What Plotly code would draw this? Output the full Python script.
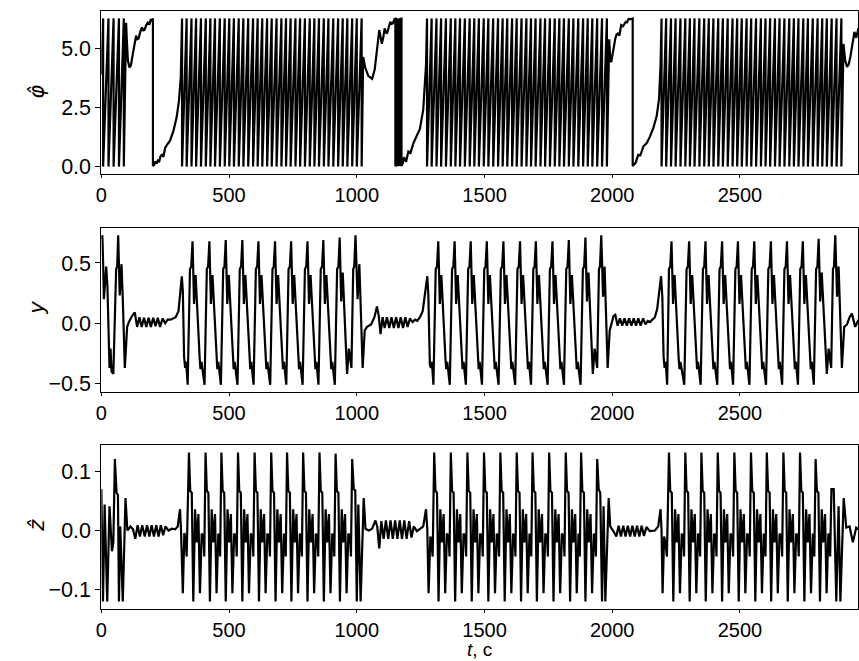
import plotly.graph_objects as go

TWO_PI = 6.2832

# ---------------- phase panel (phi-hat) ----------------
phi_start = [(0, 3.9)]
phi_wraps_0 = [7, 28, 48, 69, 88]
phi_quiet_1 = [(97, 6.1), (100, 5.3), (104, 4.5), (110, 4.2), (116, 4.3), (122, 4.7), (127, 5.0),
               (132, 5.4), (136, 5.55), (141, 5.4), (146, 5.43), (152, 5.7), (159, 5.9), (164, 5.78),
               (169, 5.8), (176, 6.0), (182, 6.1), (188, 6.02), (193, 6.22), (198, 6.2), (202, 6.28),
               (202, 0.02), (207, 0.08), (212, 0.22), (217, 0.12), (222, 0.3), (226, 0.18), (232, 0.45),
               (237, 0.5), (243, 0.42), (250, 0.8), (259, 0.95), (269, 1.1), (282, 1.5), (295, 2.1),
               (304, 2.8), (311, 3.8)]
phi_wraps_1 = [316, 334, 353, 371, 390, 409, 427, 445, 464, 483, 501, 519, 538, 556, 575, 594, 612,
               630, 649, 667, 686, 705, 723, 741, 760, 778, 797, 816, 834, 852, 871, 889, 908, 927,
               945, 963, 982, 1000, 1019]
phi_quiet_2 = [(1025, 4.65), (1033, 4.2), (1045, 3.85), (1060, 3.72), (1070, 4.1), (1079, 4.86),
               (1088, 5.79), (1093, 5.5), (1098, 5.21), (1104, 5.5), (1109, 5.86), (1114, 5.7),
               (1118, 5.64), (1125, 5.9), (1131, 6.14), (1136, 6.05), (1141, 6.07), (1148, 6.26),
               (1151, 6.27), (1151, 0.02), (1155, 0.06), (1155, 6.25), (1159, 6.24), (1159, 0.03),
               (1163, 0.08), (1163, 6.25), (1167, 6.22), (1167, 0.04), (1171, 0.1), (1171, 6.26),
               (1175, 6.27), (1175, 0.02), (1180, 0.15), (1185, 0.4), (1193, 0.2), (1202, 0.64),
               (1210, 0.58), (1222, 1.0), (1234, 1.3), (1247, 1.6), (1260, 2.4), (1271, 4.3)]
phi_wraps_2 = [1275, 1293, 1312, 1330, 1349, 1368, 1386, 1404, 1423, 1442, 1460, 1478, 1497, 1515,
               1534, 1553, 1571, 1589, 1608, 1626, 1645, 1664, 1682, 1700, 1719, 1737, 1756, 1775,
               1793, 1811, 1830, 1848, 1867, 1886, 1904, 1922, 1941, 1960, 1979]
phi_quiet_3 = [(1988, 5.4), (1992, 4.6), (1996, 4.43), (2004, 5.0), (2012, 5.43), (2017, 5.6),
               (2022, 5.64), (2028, 5.55), (2035, 6.0), (2042, 5.95), (2053, 6.14), (2058, 6.12),
               (2064, 6.26), (2072, 6.25), (2080, 6.28), (2080, 0.03), (2086, 0.1), (2092, 0.17),
               (2097, 0.35), (2102, 0.5), (2110, 0.48), (2122, 0.86), (2135, 1.0), (2148, 1.28),
               (2161, 1.64), (2174, 2.14), (2183, 2.86), (2189, 4.3)]
phi_wraps_3 = [2193, 2211, 2230, 2248, 2267, 2286, 2304, 2322, 2341, 2360, 2378, 2396, 2415, 2433,
               2452, 2471, 2489, 2507, 2526, 2544, 2563, 2582, 2600, 2618, 2637, 2655, 2674, 2693,
               2711, 2729, 2748, 2766, 2785, 2804, 2822, 2840, 2859, 2878, 2897]
phi_quiet_4 = [(2905, 5.2), (2912, 4.5), (2919, 4.22), (2926, 4.35), (2932, 4.65), (2938, 5.1),
               (2942, 5.43), (2948, 5.71), (2955, 5.46), (2964, 5.86)]

# ---------------- y panel ----------------
y_quiet_1 = [(0, 0.70), (4, 0.73), (7, 0.50), (10, 0.20), (15, 0.35), (19, 0.47), (24, 0.30),
             (32, -0.37), (36, -0.21), (40, -0.40), (47, -0.42), (58, 0.45), (62, 0.47), (66, 0.73),
             (72, 0.23), (79, 0.49), (84, 0.20), (92, -0.37), (101, -0.03), (108, 0.01), (120, 0.06),
             (131, 0.09), (140, -0.03), (149, 0.05), (158, -0.03), (167, 0.045), (176, -0.03),
             (185, 0.045), (194, -0.03), (203, 0.045), (212, -0.025), (221, 0.045), (230, -0.03),
             (240, 0.04), (250, 0.0), (260, 0.03), (271, 0.03), (281, 0.04), (291, 0.05), (302, 0.10),
             (308, 0.26), (315, 0.39), (319, 0.27), (324, -0.28), (328, -0.37), (332, -0.32), (338, -0.51)]
y_burst_1 = [(347, 0.45), (352, 0.47), (357, 0.68), (363, 0.16), (369, 0.40), (385, -0.29), (388, -0.38), (392, -0.32), (404, -0.51),
             (413, 0.45), (418, 0.47), (423, 0.68), (429, 0.16), (435, 0.40), (451, -0.29), (454, -0.38), (458, -0.32), (468, -0.51),
             (477, 0.45), (482, 0.47), (487, 0.69), (493, 0.16), (499, 0.40), (515, -0.29), (518, -0.38), (522, -0.32), (533, -0.51),
             (542, 0.45), (547, 0.47), (552, 0.69), (558, 0.16), (564, 0.40), (580, -0.29), (583, -0.38), (587, -0.32), (596, -0.51),
             (605, 0.45), (610, 0.47), (615, 0.68), (621, 0.16), (627, 0.40), (643, -0.29), (646, -0.38), (650, -0.32), (661, -0.51),
             (670, 0.45), (675, 0.47), (680, 0.68), (686, 0.16), (692, 0.40), (708, -0.29), (711, -0.38), (715, -0.32), (724, -0.51),
             (733, 0.45), (738, 0.47), (743, 0.68), (749, 0.16), (755, 0.40), (771, -0.29), (774, -0.38), (778, -0.32), (788, -0.51),
             (797, 0.45), (802, 0.47), (807, 0.68), (813, 0.16), (819, 0.40), (835, -0.29), (838, -0.38), (842, -0.32), (850, -0.51),
             (859, 0.45), (864, 0.47), (869, 0.69), (875, 0.16), (881, 0.40), (897, -0.29), (900, -0.38), (904, -0.32), (914, -0.51),
             (923, 0.45), (928, 0.47), (933, 0.71), (939, 0.18), (945, 0.42), (962, -0.42), (969, -0.21), (979, -0.37),
             (986, 0.45), (990, 0.47), (995, 0.73), (1003, 0.20), (1010, 0.49), (1023, -0.37)]
y_quiet_2 = [(1031, -0.06), (1040, -0.03), (1056, -0.01), (1069, 0.05), (1079, 0.14), (1086, 0.06),
             (1093, -0.09), (1101, 0.05), (1109, -0.04), (1118, 0.05), (1127, -0.04), (1136, 0.05),
             (1145, -0.04), (1154, 0.05), (1163, -0.04), (1172, 0.05), (1181, -0.04), (1190, 0.05),
             (1199, -0.03), (1208, 0.04), (1218, 0.01), (1228, 0.03), (1237, 0.02), (1247, 0.05),
             (1258, 0.10), (1267, 0.24), (1276, 0.39), (1280, 0.24), (1286, -0.34), (1290, -0.37),
             (1294, -0.32), (1300, -0.51)]
y_burst_2 = [(1309, 0.45), (1314, 0.47), (1319, 0.68), (1325, 0.16), (1331, 0.40), (1347, -0.29), (1350, -0.38), (1354, -0.32), (1364, -0.51),
             (1373, 0.45), (1378, 0.47), (1383, 0.68), (1389, 0.16), (1395, 0.40), (1411, -0.29), (1414, -0.38), (1418, -0.32), (1427, -0.51),
             (1436, 0.45), (1441, 0.47), (1446, 0.68), (1452, 0.16), (1458, 0.40), (1474, -0.29), (1477, -0.38), (1481, -0.32), (1490, -0.51),
             (1499, 0.45), (1504, 0.47), (1509, 0.68), (1515, 0.16), (1521, 0.40), (1537, -0.29), (1540, -0.38), (1544, -0.32), (1555, -0.51),
             (1564, 0.45), (1569, 0.47), (1574, 0.68), (1580, 0.16), (1586, 0.40), (1602, -0.29), (1605, -0.38), (1609, -0.32), (1620, -0.51),
             (1629, 0.45), (1634, 0.47), (1639, 0.68), (1645, 0.16), (1651, 0.40), (1667, -0.29), (1670, -0.38), (1674, -0.32), (1682, -0.51),
             (1691, 0.45), (1696, 0.47), (1701, 0.68), (1707, 0.16), (1713, 0.40), (1729, -0.29), (1732, -0.38), (1736, -0.32), (1747, -0.51),
             (1756, 0.45), (1761, 0.47), (1766, 0.68), (1772, 0.16), (1778, 0.40), (1794, -0.29), (1797, -0.38), (1801, -0.32), (1811, -0.51),
             (1820, 0.45), (1825, 0.47), (1830, 0.69), (1836, 0.16), (1842, 0.40), (1858, -0.29), (1861, -0.38), (1865, -0.32), (1876, -0.51),
             (1885, 0.45), (1890, 0.47), (1895, 0.71), (1901, 0.18), (1907, 0.42), (1924, -0.42), (1931, -0.21), (1941, -0.37),
             (1948, 0.45), (1952, 0.47), (1957, 0.73), (1964, 0.22), (1970, 0.47), (1982, -0.37)]
y_quiet_3 = [(1990, -0.06), (1996, -0.01), (2005, 0.06), (2012, 0.07), (2021, -0.02), (2030, 0.04),
             (2039, -0.02), (2048, 0.04), (2057, -0.02), (2066, 0.04), (2075, -0.02), (2084, 0.04),
             (2093, -0.02), (2102, 0.04), (2111, -0.02), (2121, 0.04), (2130, -0.01), (2139, 0.02),
             (2148, 0.01), (2157, 0.03), (2167, 0.05), (2176, 0.12), (2184, 0.27), (2191, 0.39),
             (2196, 0.22), (2201, -0.28), (2205, -0.37), (2209, -0.32), (2215, -0.51)]
y_burst_3 = [(2222, 0.45), (2227, 0.47), (2232, 0.68), (2238, 0.16), (2244, 0.40), (2260, -0.29), (2263, -0.38), (2267, -0.32), (2282, -0.51),
             (2291, 0.45), (2296, 0.47), (2301, 0.68), (2307, 0.16), (2313, 0.40), (2329, -0.29), (2332, -0.38), (2336, -0.32), (2346, -0.51),
             (2355, 0.45), (2360, 0.47), (2365, 0.68), (2371, 0.16), (2377, 0.40), (2393, -0.29), (2396, -0.38), (2400, -0.32), (2411, -0.51),
             (2420, 0.45), (2425, 0.47), (2430, 0.68), (2436, 0.16), (2442, 0.40), (2458, -0.29), (2461, -0.38), (2465, -0.32), (2473, -0.51),
             (2482, 0.45), (2487, 0.47), (2492, 0.68), (2498, 0.16), (2504, 0.40), (2520, -0.29), (2523, -0.38), (2527, -0.32), (2537, -0.51),
             (2546, 0.45), (2551, 0.47), (2556, 0.68), (2562, 0.16), (2568, 0.40), (2584, -0.29), (2587, -0.38), (2591, -0.32), (2602, -0.51),
             (2611, 0.45), (2616, 0.47), (2621, 0.68), (2627, 0.16), (2633, 0.40), (2649, -0.29), (2652, -0.38), (2656, -0.32), (2665, -0.51),
             (2674, 0.45), (2679, 0.47), (2684, 0.68), (2690, 0.16), (2696, 0.40), (2712, -0.29), (2715, -0.38), (2719, -0.32), (2727, -0.51),
             (2736, 0.45), (2741, 0.47), (2746, 0.68), (2752, 0.16), (2758, 0.40), (2774, -0.29), (2777, -0.38), (2781, -0.32), (2789, -0.51),
             (2798, 0.45), (2803, 0.47), (2808, 0.70), (2814, 0.18), (2820, 0.42), (2840, -0.42), (2847, -0.21), (2857, -0.37),
             (2864, 0.45), (2868, 0.47), (2873, 0.73), (2880, 0.22), (2886, 0.47), (2899, -0.37)]
y_quiet_4 = [(2908, -0.03), (2919, -0.01), (2929, 0.05), (2938, 0.08), (2951, -0.03), (2964, 0.03)]

# ---------------- z panel ----------------
z_quiet_1 = [(0, 0.07), (6.5, -0.12), (13, 0.044), (17, -0.015), (23, -0.12), (32, 0.041), (41.5, -0.035),
             (47, -0.02), (53, 0.121), (59.6, 0.064), (65, 0.06), (69, -0.12), (74, 0.007), (84, -0.12),
             (94.6, 0.055), (102, 0.0), (114, 0.007), (124, 0.002), (133, -0.014), (142, 0.009),
             (151, -0.01), (160, 0.009), (170, -0.01), (179, 0.009), (188, -0.01), (197, 0.009),
             (206, -0.01), (215, 0.009), (224, -0.01), (233, 0.009), (242, -0.008), (251, 0.007),
             (263, 0.0), (276, 0.003), (289, 0.002), (299, 0.007), (308, 0.036), (312, 0.0),
             (319, -0.106), (325, -0.004), (330, -0.015), (334, -0.044)]
z_burst_1 = [(343, 0.132), (348, 0.067), (354, 0.064), (360, -0.12), (367, 0.036), (373, -0.02), (380, 0.028), (386, -0.106), (393, -0.005), (400, -0.012), (403, -0.044),
             (408, 0.132), (413, 0.067), (419, 0.064), (425, -0.12), (432, 0.036), (438, -0.02), (445, 0.028), (451, -0.106), (458, -0.005), (462, -0.012), (465, -0.044),
             (470, 0.132), (475, 0.067), (481, 0.064), (487, -0.12), (494, 0.036), (500, -0.02), (507, 0.028), (513, -0.106), (520, -0.005), (527, -0.012), (530, -0.044),
             (535, 0.132), (540, 0.067), (546, 0.064), (552, -0.12), (559, 0.036), (565, -0.02), (572, 0.028), (578, -0.106), (585, -0.005), (592, -0.012), (595, -0.044),
             (600, 0.132), (605, 0.067), (611, 0.064), (617, -0.12), (624, 0.036), (630, -0.02), (637, 0.028), (643, -0.106), (650, -0.005), (657, -0.012), (660, -0.044),
             (665, 0.132), (670, 0.067), (676, 0.064), (682, -0.12), (689, 0.036), (695, -0.02), (702, 0.028), (708, -0.106), (715, -0.005), (719, -0.012), (722, -0.044),
             (727, 0.132), (732, 0.067), (738, 0.064), (744, -0.12), (751, 0.036), (757, -0.02), (764, 0.028), (770, -0.106), (777, -0.005), (782, -0.012), (785, -0.044),
             (790, 0.132), (795, 0.067), (801, 0.064), (807, -0.12), (814, 0.036), (820, -0.02), (827, 0.028), (833, -0.106), (840, -0.005), (846, -0.012), (849, -0.044),
             (854, 0.132), (859, 0.067), (865, 0.064), (871, -0.12), (878, 0.036), (884, -0.02), (891, 0.028), (897, -0.106), (904, -0.005), (909, -0.012), (912, -0.044),
             (917, 0.13), (922, 0.067), (928, 0.064), (934, -0.12), (941, 0.036), (947, -0.02), (954, 0.028), (960, -0.106), (967, -0.005), (974, -0.012), (977, -0.044),
             (982, 0.121), (988, 0.07), (994, 0.068), (1000, -0.12), (1006, 0.044), (1015, -0.12), (1027, 0.055)]
z_quiet_2 = [(1034, 0.003), (1047, 0.0), (1060, 0.003), (1073, 0.017), (1080, 0.007), (1088, -0.03),
             (1096, 0.016), (1105, -0.014), (1114, 0.017), (1123, -0.014), (1132, 0.017), (1141, -0.014),
             (1150, 0.017), (1159, -0.014), (1168, 0.017), (1177, -0.014), (1186, 0.017), (1195, -0.014),
             (1205, 0.016), (1214, -0.012), (1223, 0.007), (1235, -0.001), (1248, 0.003), (1260, 0.007),
             (1271, 0.036), (1276, 0.002), (1281, -0.106), (1288, -0.01), (1292, -0.018), (1297, -0.044)]
z_burst_2 = [(1303, 0.132), (1308, 0.067), (1314, 0.064), (1320, -0.12), (1327, 0.036), (1333, -0.02), (1340, 0.028), (1346, -0.106), (1353, -0.005), (1360, -0.012), (1363, -0.044),
             (1368, 0.132), (1373, 0.067), (1379, 0.064), (1385, -0.12), (1392, 0.036), (1398, -0.02), (1405, 0.028), (1411, -0.106), (1418, -0.005), (1425, -0.012), (1428, -0.044),
             (1433, 0.132), (1438, 0.067), (1444, 0.064), (1450, -0.12), (1457, 0.036), (1463, -0.02), (1470, 0.028), (1476, -0.106), (1483, -0.005), (1490, -0.012), (1493, -0.044),
             (1498, 0.132), (1503, 0.067), (1509, 0.064), (1515, -0.12), (1522, 0.036), (1528, -0.02), (1535, 0.028), (1541, -0.106), (1548, -0.005), (1554, -0.012), (1557, -0.044),
             (1562, 0.132), (1567, 0.067), (1573, 0.064), (1579, -0.12), (1586, 0.036), (1592, -0.02), (1599, 0.028), (1605, -0.106), (1612, -0.005), (1618, -0.012), (1621, -0.044),
             (1626, 0.132), (1631, 0.067), (1637, 0.064), (1643, -0.12), (1650, 0.036), (1656, -0.02), (1663, 0.028), (1669, -0.106), (1676, -0.005), (1680, -0.012), (1683, -0.044),
             (1688, 0.132), (1693, 0.067), (1699, 0.064), (1705, -0.12), (1712, 0.036), (1718, -0.02), (1725, 0.028), (1731, -0.106), (1738, -0.005), (1745, -0.012), (1748, -0.044),
             (1753, 0.132), (1758, 0.067), (1764, 0.064), (1770, -0.12), (1777, 0.036), (1783, -0.02), (1790, 0.028), (1796, -0.106), (1803, -0.005), (1810, -0.012), (1813, -0.044),
             (1818, 0.132), (1823, 0.067), (1829, 0.064), (1835, -0.12), (1842, 0.036), (1848, -0.02), (1855, 0.028), (1861, -0.106), (1868, -0.005), (1870, -0.012), (1873, -0.044),
             (1878, 0.132), (1883, 0.067), (1889, 0.064), (1895, -0.12), (1902, 0.036), (1908, -0.02), (1915, 0.028), (1921, -0.106), (1928, -0.005), (1933, -0.012), (1936, -0.044),
             (1941, 0.121), (1947, 0.07), (1953, 0.064), (1960, -0.12), (1966, 0.041), (1973, -0.12), (1986, 0.055)]
z_quiet_3 = [(1992, 0.007), (2003, 0.0), (2016, -0.01), (2025, 0.008), (2034, -0.01), (2043, 0.008),
             (2052, -0.01), (2061, 0.008), (2070, -0.01), (2079, 0.008), (2088, -0.01), (2097, 0.008),
             (2106, -0.01), (2115, 0.008), (2124, -0.009), (2134, 0.006), (2147, -0.001), (2167, 0.0),
             (2180, 0.007), (2189, 0.036), (2193, 0.0), (2197, -0.106), (2203, -0.01), (2208, -0.02),
             (2214, -0.044)]
z_burst_3 = [(2222, 0.132), (2227, 0.067), (2233, 0.064), (2239, -0.12), (2246, 0.036), (2252, -0.02), (2259, 0.028), (2265, -0.106), (2272, -0.005), (2278, -0.012), (2281, -0.044),
             (2286, 0.132), (2291, 0.067), (2297, 0.064), (2303, -0.12), (2310, 0.036), (2316, -0.02), (2323, 0.028), (2329, -0.106), (2336, -0.005), (2341, -0.012), (2344, -0.044),
             (2349, 0.132), (2354, 0.067), (2360, 0.064), (2366, -0.12), (2373, 0.036), (2379, -0.02), (2386, 0.028), (2392, -0.106), (2399, -0.005), (2405, -0.012), (2408, -0.044),
             (2413, 0.132), (2418, 0.067), (2424, 0.064), (2430, -0.12), (2437, 0.036), (2443, -0.02), (2450, 0.028), (2456, -0.106), (2463, -0.005), (2470, -0.012), (2473, -0.044),
             (2478, 0.132), (2483, 0.067), (2489, 0.064), (2495, -0.12), (2502, 0.036), (2508, -0.02), (2515, 0.028), (2521, -0.106), (2528, -0.005), (2535, -0.012), (2538, -0.044),
             (2543, 0.132), (2548, 0.067), (2554, 0.064), (2560, -0.12), (2567, 0.036), (2573, -0.02), (2580, 0.028), (2586, -0.106), (2593, -0.005), (2597, -0.012), (2600, -0.044),
             (2605, 0.132), (2610, 0.067), (2616, 0.064), (2622, -0.12), (2629, 0.036), (2635, -0.02), (2642, 0.028), (2648, -0.106), (2655, -0.005), (2662, -0.012), (2665, -0.044),
             (2670, 0.132), (2675, 0.067), (2681, 0.064), (2687, -0.12), (2694, 0.036), (2700, -0.02), (2707, 0.028), (2713, -0.106), (2720, -0.005), (2727, -0.012), (2730, -0.044),
             (2735, 0.132), (2740, 0.067), (2746, 0.064), (2752, -0.12), (2759, 0.036), (2765, -0.02), (2772, 0.028), (2778, -0.106), (2785, -0.005), (2788, -0.012), (2791, -0.044),
             (2796, 0.121), (2801, 0.067), (2807, 0.064), (2813, -0.12), (2820, 0.036), (2826, -0.02), (2833, 0.028), (2839, -0.106), (2846, -0.005), (2850, -0.012), (2853, -0.044),
             (2858, 0.07), (2867, 0.07), (2877, -0.12), (2886, 0.041), (2893, -0.12), (2906, 0.055)]
z_quiet_4 = [(2916, 0.005), (2929, 0.007), (2942, -0.02), (2955, 0.005), (2964, 0.002)]

x_ticks = [0, 500, 1000, 1500, 2000, 2500]
phi_ticks = [0.0, 2.5, 5.0]
y_ticks = [-0.5, 0.0, 0.5]
z_ticks = [-0.1, 0.0, 0.1]


def fmt(v):
    s = f"{v:.1f}"
    return s.replace("-", "\u2212")


def build_phi(segments):
    t, v = [], []
    for kind, seg in segments:
        if kind == "curve":
            for a, b in seg:
                t.append(a)
                v.append(b)
        else:
            for d in seg:
                t += [d, d]
                v += [TWO_PI, 0.0]
    return t, v


def join(*parts):
    t, v = [], []
    for p in parts:
        for a, b in p:
            t.append(a)
            v.append(b)
    return t, v


phi_t, phi_v = build_phi([
    ("curve", phi_start), ("wraps", phi_wraps_0), ("curve", phi_quiet_1),
    ("wraps", phi_wraps_1), ("curve", phi_quiet_2), ("wraps", phi_wraps_2),
    ("curve", phi_quiet_3), ("wraps", phi_wraps_3), ("curve", phi_quiet_4),
])
y_t, y_v = join(y_quiet_1, y_burst_1, y_quiet_2, y_burst_2, y_quiet_3, y_burst_3, y_quiet_4)
z_t, z_v = join(z_quiet_1, z_burst_1, z_quiet_2, z_burst_2, z_quiet_3, z_burst_3, z_quiet_4)

FONT = "Liberation Sans, Arial, sans-serif"
MATH = "DejaVu Sans, sans-serif"
line = dict(color="black", width=2.2)

fig = go.Figure()
fig.add_trace(go.Scatter(x=phi_t, y=phi_v, mode="lines", line=line, xaxis="x", yaxis="y"))
fig.add_trace(go.Scatter(x=y_t, y=y_v, mode="lines", line=line, xaxis="x2", yaxis="y2"))
fig.add_trace(go.Scatter(x=z_t, y=z_v, mode="lines", line=line, xaxis="x3", yaxis="y3"))

W, H = 859, 661
L, R, T, B = 96, 858, 11, 609
plot_h = B - T


def ydom(top_px, bot_px):
    return [(B - bot_px) / plot_h, (B - top_px) / plot_h]


xdom = [L / W, R / W]
common_x = dict(range=[0, 2962], domain=xdom, showline=True, mirror=True, linecolor="black",
                linewidth=1, ticks="outside", ticklen=3, tickwidth=1, tickcolor="black",
                tickvals=x_ticks, ticktext=[str(v) for v in x_ticks], showgrid=False,
                zeroline=False, tickfont=dict(family=FONT, size=20, color="black"))
common_y = dict(showline=True, mirror=True, linecolor="black", linewidth=1, ticks="outside",
                ticklen=5, tickwidth=1, tickcolor="black", showgrid=False, zeroline=False,
                tickfont=dict(family=FONT, size=21.5, color="black"))

fig.update_layout(
    width=W, height=H, margin=dict(l=0, r=0, t=T, b=H - B),
    paper_bgcolor="white", plot_bgcolor="white", showlegend=False,
    xaxis=dict(anchor="y", **common_x),
    xaxis2=dict(anchor="y2", **common_x),
    xaxis3=dict(anchor="y3", **common_x),
    yaxis=dict(anchor="x", domain=ydom(11, 174), range=[-0.314, 6.597],
               tickvals=phi_ticks, ticktext=[fmt(v) for v in phi_ticks], **common_y),
    yaxis2=dict(anchor="x2", domain=ydom(228, 392), range=[-0.57, 0.79],
                tickvals=y_ticks, ticktext=[fmt(v) for v in y_ticks], **common_y),
    yaxis3=dict(anchor="x3", domain=ydom(445, 609), range=[-0.1326, 0.1446],
                tickvals=z_ticks, ticktext=[fmt(v) for v in z_ticks], **common_y),
)

lab_font = dict(family=MATH, size=21, color="black")
for txt, cy in [("<i>\u03c6\u0302</i>", 92), ("<i>y</i>", 308), ("<i>\u1e91</i>", 525)]:
    fig.add_annotation(text=txt, xref="paper", yref="paper", x=31 / W, y=(B - cy) / plot_h,
                       xanchor="center", yanchor="middle", textangle=-90, showarrow=False,
                       font=lab_font)
fig.add_annotation(text="<i>t</i>, \u0441", xref="paper", yref="paper", x=(L + R) / 2 / W,
                   y=(B - 649) / plot_h, xanchor="center", yanchor="middle", showarrow=False,
                   font=dict(family=FONT, size=19, color="black"))

fig.write_html("out.html")
